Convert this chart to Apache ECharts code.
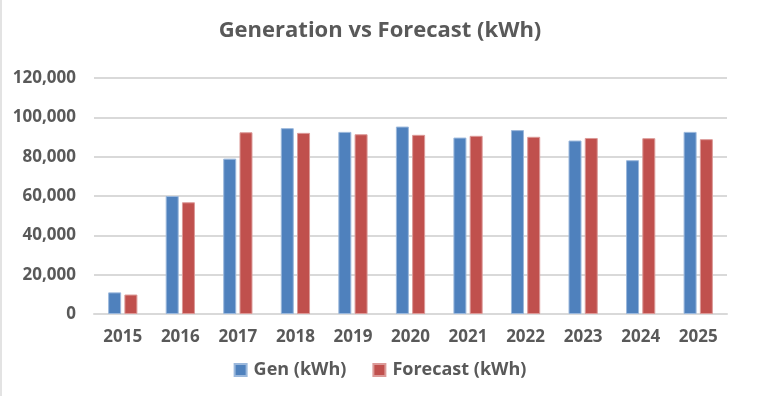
<!DOCTYPE html>
<html>
<head>
<meta charset="utf-8">
<script src="https://cdn.jsdelivr.net/npm/echarts@6/dist/echarts.min.js"></script>
<style>
  html, body { margin: 0; padding: 0; background: #fff; }
  #chart { width: 758px; height: 396px; box-sizing: border-box; border-left: 2px solid #e3e3e3; }
</style>
</head>
<body>
<div id="chart"></div>
<script>
var years = ['2015', '2016', '2017', '2018', '2019', '2020', '2021', '2022', '2023', '2024', '2025']
var genValues = [11000, 60000, 79000, 94500, 92600, 95300, 89700, 93500, 88200, 78200, 92600]
var forecastValues = [9900, 56800, 92400, 92100, 91400, 91100, 90600, 90100, 89500, 89400, 88900]

var textColor = '#595959'
var font = '"Open Sans", "DejaVu Sans", sans-serif'

var chart = echarts.init(document.getElementById('chart'))

var option = {
    animation: false,
    title: {
        text: 'Generation vs Forecast (kWh)',
        left: 'center',
        top: 15,
        textStyle: {
            fontFamily: font,
            fontSize: 22,
            fontWeight: 'bold',
            color: textColor
        }
    },
    grid: {
        left: 92,
        right: 31,
        top: 78,
        bottom: 82
    },
    legend: {
        bottom: 12,
        left: 'center',
        itemWidth: 12,
        itemHeight: 12,
        itemGap: 26,
        icon: 'rect',
        textStyle: {
            fontFamily: font,
            fontSize: 18,
            fontWeight: 'bold',
            color: textColor,
            padding: [0, 0, 0, 2]
        },
        data: ['Gen (kWh)', 'Forecast (kWh)']
    },
    xAxis: {
        type: 'category',
        data: years,
        axisLine: { lineStyle: { color: '#d9d9d9', width: 2 } },
        axisTick: { show: false },
        axisLabel: {
            margin: 15,
            fontFamily: font,
            fontSize: 17,
            fontWeight: 'bold',
            color: textColor
        }
    },
    yAxis: {
        type: 'value',
        min: 0,
        max: 120000,
        interval: 20000,
        axisLine: { show: false },
        axisTick: { show: false },
        splitLine: { lineStyle: { color: '#d9d9d9', width: 2 } },
        axisLabel: {
            margin: 18,
            fontFamily: font,
            fontSize: 17,
            fontWeight: 'bold',
            color: textColor,
            formatter: function (v) { return v.toLocaleString('en-US') }
        }
    },
    series: [
        {
            name: 'Gen (kWh)',
            type: 'bar',
            data: genValues,
            barWidth: 13,
            barGap: '25%',
            itemStyle: { color: '#4F81BD', borderColor: '#9bb8dc', borderWidth: 1 }
        },
        {
            name: 'Forecast (kWh)',
            type: 'bar',
            data: forecastValues,
            barWidth: 13,
            barGap: '25%',
            itemStyle: { color: '#C0504D', borderColor: '#dc9a98', borderWidth: 1 }
        }
    ]
}
chart.setOption(option)
</script>
</body>
</html>
